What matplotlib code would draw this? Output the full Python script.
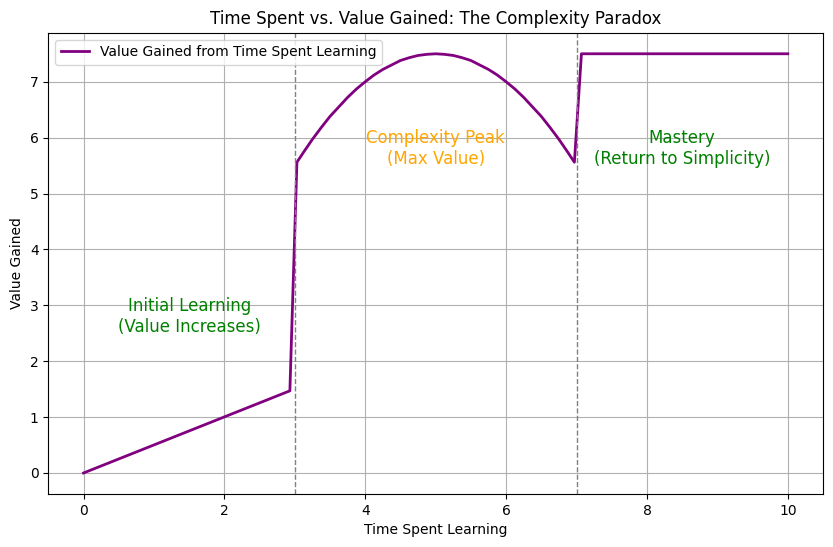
import matplotlib
matplotlib.use("Agg")
import matplotlib.pyplot as plt

# values
time_spent = [0.0, 2.93, 3.03, 3.125, 3.25, 3.375, 3.5, 3.625, 3.75, 3.875, 4.0,
              4.125, 4.25, 4.375, 4.5, 4.625, 4.75, 4.875, 5.0,
              5.125, 5.25, 5.375, 5.5, 5.625, 5.75, 5.875, 6.0,
              6.125, 6.25, 6.375, 6.5, 6.625, 6.75, 6.875, 6.97, 7.07, 10.0]
value_gained = [0.0, 1.47, 5.56, 5.74, 5.97, 6.18, 6.38, 6.55, 6.72, 6.87, 7.0,
                7.12, 7.22, 7.30, 7.38, 7.43, 7.47, 7.49, 7.5,
                7.49, 7.47, 7.43, 7.38, 7.30, 7.22, 7.12, 7.0,
                6.87, 6.72, 6.55, 6.38, 6.18, 5.97, 5.74, 5.56, 7.5, 7.5]
phase_bounds = [3, 7]
annotations = [
    (1.5, 2.8, "Initial Learning\n(Value Increases)", "green"),
    (5.0, 5.8, "Complexity Peak\n(Max Value)", "orange"),
    (8.5, 5.8, "Mastery\n(Return to Simplicity)", "green"),
]

fig = plt.figure(figsize=(8.33, 5.47), dpi=100)
ax = fig.add_axes([0.058, 0.097, 0.93, 0.843])
ax.plot(time_spent, value_gained, color="purple", lw=2,
        label="Value Gained from Time Spent Learning")
for b in phase_bounds:
    ax.axvline(b, color="gray", ls="--", lw=1)
for x, y, t, c in annotations:
    ax.text(x, y, t, color=c, fontsize=12, ha="center", va="center")
ax.set_title("Time Spent vs. Value Gained: The Complexity Paradox")
ax.set_xlabel("Time Spent Learning")
ax.set_ylabel("Value Gained")
ax.grid(True)
ax.legend(loc="upper left")
fig.savefig("out.png", dpi=100)
